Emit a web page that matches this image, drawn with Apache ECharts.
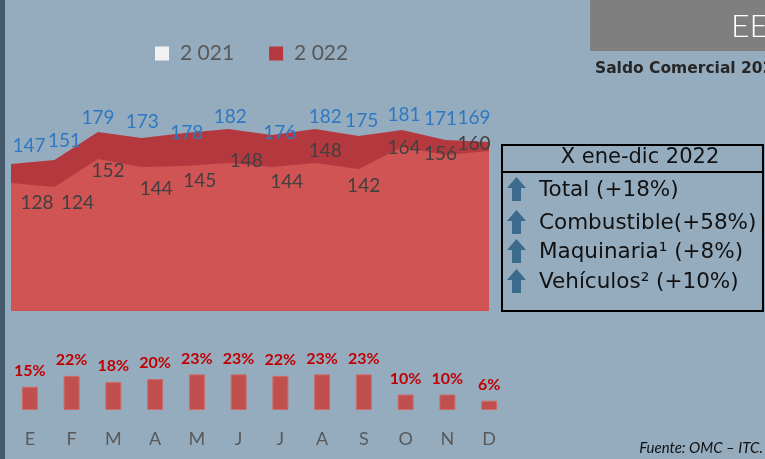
<!DOCTYPE html>
<html>
<head>
<meta charset="utf-8">
<script src="https://cdn.jsdelivr.net/npm/echarts@6/dist/echarts.min.js"></script>
<style>
  html, body { margin: 0; padding: 0; background: #95acbf; }
  #chart { width: 765px; height: 459px; }
</style>
</head>
<body>
<div id="chart"></div>
<script>
// meses
const months = ['E', 'F', 'M', 'A', 'M', 'J', 'J', 'A', 'S', 'O', 'N', 'D'];
// valores por año
const y2021 = [128, 124, 152, 144, 145, 148, 144, 148, 142, 164, 156, 160];
const y2022 = [147, 151, 179, 173, 178, 182, 176, 182, 175, 181, 171, 169];
// variacion mensual (%)
const growth = [15, 22, 18, 20, 23, 23, 22, 23, 23, 10, 10, 6];
// recuadro derecho
const boxTitle = 'X ene-dic 2022';
const boxItems = ['Total (+18%)', 'Combustible(+58%)', 'Maquinaria\u00b9 (+8%)', 'Veh\u00edculos\u00b2 (+10%)'];

// desplazamiento de etiquetas (como en el original, puestas a mano)
const off2022 = [[18, -18], [10, -19], [0, -14], [1, -16], [2, 0], [2, -12], [8, -2], [10, -12], [3, -15], [2, -15], [-5, -21], [-15, -24]];
const off2021 = [[26, 20], [23, 16], [10, 12], [15, 22], [15, 15], [18, -2], [15, 15], [10, -12], [5, 17], [2, 1], [-5, -1], [-15, -7]];

const mychart = echarts.init(document.getElementById('chart'));

const withLabels = (vals, offs) => vals.map((v, i) => ({ value: v, label: { offset: offs[i] } }));

const itemY = [190, 223, 252, 282];
const arrow = (cy) => ({
    type: 'polygon',
    shape: {
        points: [[516.5, cy - 13], [526, cy - 2], [521, cy - 2], [521, cy + 11], [512, cy + 11], [512, cy - 2], [507, cy - 2]]
    },
    style: { fill: '#3c6a8c' }
});

const graphics = [
    { type: 'rect', shape: { x: 0, y: 0, width: 5, height: 459 }, style: { fill: '#455a6b' } },
    { type: 'rect', shape: { x: 590, y: 0, width: 175, height: 51 }, style: { fill: '#7f7f7f' } },
    { type: 'text', x: 731, y: 27, style: { text: 'EE', fill: '#fff', font: '300 32px Lato', verticalAlign: 'middle' } },
    { type: 'text', x: 595, y: 69, style: { text: 'Saldo Comercial 2022', fill: '#262626', font: 'bold 15.5px "DejaVu Sans"', verticalAlign: 'middle' } },
    { type: 'rect', shape: { x: 502, y: 145, width: 261, height: 166 }, style: { fill: 'none', stroke: '#000', lineWidth: 2 } },
    { type: 'line', shape: { x1: 502, y1: 172, x2: 763, y2: 172 }, style: { stroke: '#000', lineWidth: 2 } },
    { type: 'text', x: 640, y: 158, style: { text: boxTitle, fill: '#111', font: '21px "DejaVu Sans"', align: 'center', verticalAlign: 'middle' } },
    { type: 'text', x: 763, y: 448, style: { text: 'Fuente: OMC \u2013 ITC.', fill: '#111', font: 'italic 15px Lato', align: 'right', verticalAlign: 'middle' } }
];
boxItems.forEach((t, i) => {
    graphics.push(arrow(itemY[i]));
    graphics.push({ type: 'text', x: 539, y: itemY[i], style: { text: t, fill: '#111', font: '21.5px "DejaVu Sans"', verticalAlign: 'middle' } });
});

const option = {
    backgroundColor: '#95acbf',
    animation: false,
    textStyle: { fontFamily: 'Lato' },
    legend: {
        left: 150,
        top: 38,
        itemWidth: 14,
        itemHeight: 14,
        itemGap: 35,
        icon: 'rect',
        textStyle: { color: '#595959', fontSize: 21, fontFamily: 'Lato', padding: [0, 0, 0, 6] },
        data: [
            { name: '2 021', itemStyle: { color: '#f2f2f2' } },
            { name: '2 022' }
        ]
    },
    grid: [
        { left: 11, right: 276, top: 111, height: 200 },
        { left: 9, width: 501, top: 348, height: 62 }
    ],
    xAxis: [
        { type: 'category', gridIndex: 0, data: months, boundaryGap: false, show: false },
        {
            type: 'category', gridIndex: 1, data: months,
            axisLine: { show: false }, axisTick: { show: false },
            axisLabel: { color: '#595959', fontSize: 18, margin: 20, fontFamily: 'Lato' }
        }
    ],
    yAxis: [
        { type: 'value', gridIndex: 0, min: 0, max: 200, show: false },
        { type: 'value', gridIndex: 1, min: 0, max: 40, show: false }
    ],
    series: [
        {
            name: '2 022',
            type: 'line',
            xAxisIndex: 0, yAxisIndex: 0,
            data: withLabels(y2022, off2022),
            symbol: 'circle',
            symbolSize: 0,
            color: '#b4393f',
            lineStyle: { width: 0 },
            areaStyle: { color: '#b4393f', opacity: 1 },
            label: { show: true, position: 'inside', color: '#2e78c2', fontSize: 19, fontFamily: 'Lato' },
            z: 2
        },
        {
            name: '2 021',
            type: 'line',
            xAxisIndex: 0, yAxisIndex: 0,
            data: withLabels(y2021, off2021),
            symbol: 'circle',
            symbolSize: 0,
            color: '#d05454',
            lineStyle: { width: 0 },
            areaStyle: { color: '#d05454', opacity: 1 },
            label: { show: true, position: 'inside', color: '#404040', fontSize: 19, fontFamily: 'Lato' },
            z: 3
        },
        {
            name: 'var',
            type: 'bar',
            xAxisIndex: 1, yAxisIndex: 1,
            data: growth,
            barWidth: 16,
            itemStyle: { color: '#c0504d', borderColor: '#cf6a6a', borderWidth: 1 },
            label: {
                show: true, position: 'top', distance: 8,
                formatter: '{c}%', color: '#c00000', fontSize: 16, fontWeight: 'bold', fontFamily: 'Lato'
            }
        }
    ],
    graphic: graphics
};

mychart.setOption(option);
</script>
</body>
</html>
